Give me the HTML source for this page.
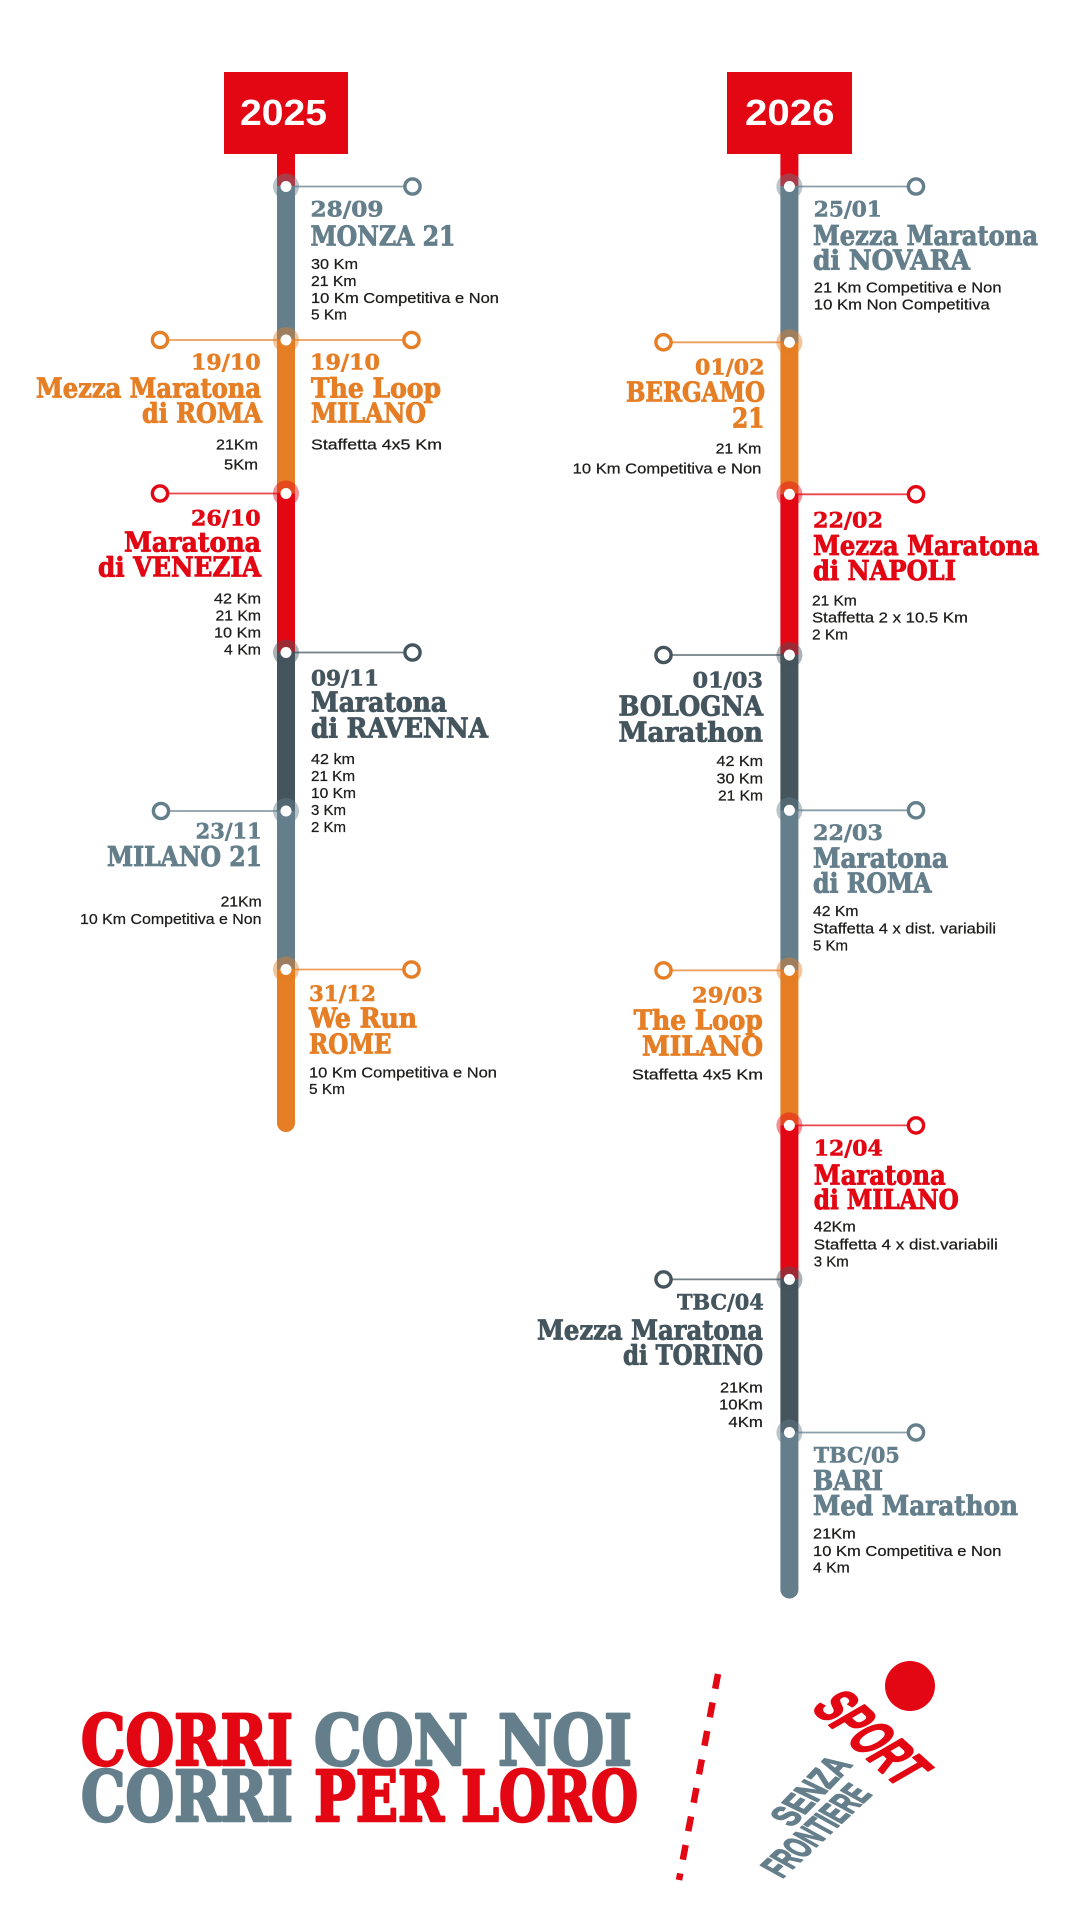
<!DOCTYPE html>
<html>
<head>
<meta charset="utf-8">
<style>
html,body{margin:0;padding:0;background:#fff;}
svg{display:block;}
.d{font-family:"DejaVu Serif Condensed","DejaVu Serif",serif;font-weight:bold;font-size:21.5px;stroke-width:0.5px;}
.t{font-family:"DejaVu Serif Condensed","DejaVu Serif",serif;font-weight:bold;font-size:27.5px;stroke-width:0.8px;}
.s{font-family:"Liberation Sans",sans-serif;font-size:15px;fill:#1d1d1b;stroke:#1d1d1b;stroke-width:0.25px;}
.y{font-family:"Liberation Sans",sans-serif;font-weight:bold;font-size:36px;fill:#fff;}
.big{font-family:"DejaVu Serif Condensed","DejaVu Serif",serif;font-weight:bold;font-size:70px;stroke-width:2.4px;stroke-linejoin:round;}
.lg{font-family:"Liberation Sans","DejaVu Sans",sans-serif;font-weight:bold;stroke-linejoin:round;}
.G{fill:#647f8b;stroke:#647f8b}.O{fill:#e57e24;stroke:#e57e24}.R{fill:#e30613;stroke:#e30613}.D{fill:#44555e;stroke:#44555e}
</style>
</head>
<body>
<svg width="1080" height="1920" viewBox="0 0 1080 1920" xmlns="http://www.w3.org/2000/svg">
<rect width="1080" height="1920" fill="#fff"/>

<!-- ===== YEAR BOXES ===== -->
<rect x="224" y="72" width="124" height="82" fill="#e30613"/>
<text class="y" x="240" y="125" textLength="87" lengthAdjust="spacingAndGlyphs">2025</text>
<rect x="727" y="72" width="125" height="82" fill="#e30613"/>
<text class="y" x="745" y="125" textLength="89.5" lengthAdjust="spacingAndGlyphs">2026</text>

<!-- ===== LEFT LINE (x center 286) ===== -->
<rect x="277" y="153" width="18" height="34" fill="#e30613"/>
<rect x="277" y="186" width="18" height="154" fill="#647f8b"/>
<rect x="277" y="340" width="18" height="154" fill="#e57e24"/>
<rect x="277" y="493.5" width="18" height="159" fill="#e30613"/>
<rect x="277" y="652.5" width="18" height="159" fill="#44555e"/>
<rect x="277" y="811" width="18" height="159" fill="#647f8b"/>
<rect x="277" y="969.5" width="18" height="154" fill="#e57e24"/>
<circle cx="286" cy="1123" r="9" fill="#e57e24"/>

<!-- ===== RIGHT LINE (x center 789.4) ===== -->
<rect x="780.4" y="153" width="18" height="34" fill="#e30613"/>
<rect x="780.4" y="186" width="18" height="157" fill="#647f8b"/>
<rect x="780.4" y="342.3" width="18" height="152" fill="#e57e24"/>
<rect x="780.4" y="494.3" width="18" height="161" fill="#e30613"/>
<rect x="780.4" y="655" width="18" height="156" fill="#44555e"/>
<rect x="780.4" y="810.3" width="18" height="160" fill="#647f8b"/>
<rect x="780.4" y="970.4" width="18" height="155" fill="#e57e24"/>
<rect x="780.4" y="1125.4" width="18" height="154" fill="#e30613"/>
<rect x="780.4" y="1279.4" width="18" height="153.5" fill="#44555e"/>
<rect x="780.4" y="1432.5" width="18" height="157" fill="#647f8b"/>
<circle cx="789.4" cy="1589.5" r="9" fill="#647f8b"/>

<!-- ===== CONNECTORS ===== -->
<g stroke-width="1.8" opacity="0.75">
<line x1="286" y1="186.5" x2="412.5" y2="186.5" stroke="#647f8b"/>
<line x1="160" y1="340" x2="411.5" y2="340" stroke="#e57e24"/>
<line x1="160" y1="493.5" x2="286" y2="493.5" stroke="#e30613"/>
<line x1="286" y1="652.5" x2="412.5" y2="652.5" stroke="#44555e"/>
<line x1="161" y1="811" x2="286" y2="811" stroke="#647f8b"/>
<line x1="286" y1="969.5" x2="411.5" y2="969.5" stroke="#e57e24"/>

<line x1="789.4" y1="186.5" x2="916" y2="186.5" stroke="#647f8b"/>
<line x1="663.5" y1="342.3" x2="789.4" y2="342.3" stroke="#e57e24"/>
<line x1="789.4" y1="494.3" x2="916" y2="494.3" stroke="#e30613"/>
<line x1="663.5" y1="655" x2="789.4" y2="655" stroke="#44555e"/>
<line x1="789.4" y1="810.3" x2="916" y2="810.3" stroke="#647f8b"/>
<line x1="663.5" y1="970.4" x2="789.4" y2="970.4" stroke="#e57e24"/>
<line x1="789.4" y1="1125.4" x2="916" y2="1125.4" stroke="#e30613"/>
<line x1="663.5" y1="1279.4" x2="789.4" y2="1279.4" stroke="#44555e"/>
<line x1="789.4" y1="1432.5" x2="916" y2="1432.5" stroke="#647f8b"/>
</g>

<!-- ===== HALOS + WHITE DOTS ===== -->
<g opacity="0.45">
<circle cx="286" cy="186.5" r="13" fill="#647f8b"/>
<circle cx="286" cy="340" r="13" fill="#e57e24"/>
<circle cx="286" cy="493.5" r="13" fill="#e30613"/>
<circle cx="286" cy="652.5" r="13" fill="#44555e"/>
<circle cx="286" cy="811" r="13" fill="#647f8b"/>
<circle cx="286" cy="969.5" r="13" fill="#e57e24"/>
<circle cx="789.4" cy="186.5" r="13" fill="#647f8b"/>
<circle cx="789.4" cy="342.3" r="13" fill="#e57e24"/>
<circle cx="789.4" cy="494.3" r="13" fill="#e30613"/>
<circle cx="789.4" cy="655" r="13" fill="#44555e"/>
<circle cx="789.4" cy="810.3" r="13" fill="#647f8b"/>
<circle cx="789.4" cy="970.4" r="13" fill="#e57e24"/>
<circle cx="789.4" cy="1125.4" r="13" fill="#e30613"/>
<circle cx="789.4" cy="1279.4" r="13" fill="#44555e"/>
<circle cx="789.4" cy="1432.5" r="13" fill="#647f8b"/>
</g>
<g fill="#fff">
<circle cx="286" cy="186.5" r="5.5"/>
<circle cx="286" cy="340" r="5.5"/>
<circle cx="286" cy="493.5" r="5.5"/>
<circle cx="286" cy="652.5" r="5.5"/>
<circle cx="286" cy="811" r="5.5"/>
<circle cx="286" cy="969.5" r="5.5"/>
<circle cx="789.4" cy="186.5" r="5.5"/>
<circle cx="789.4" cy="342.3" r="5.5"/>
<circle cx="789.4" cy="494.3" r="5.5"/>
<circle cx="789.4" cy="655" r="5.5"/>
<circle cx="789.4" cy="810.3" r="5.5"/>
<circle cx="789.4" cy="970.4" r="5.5"/>
<circle cx="789.4" cy="1125.4" r="5.5"/>
<circle cx="789.4" cy="1279.4" r="5.5"/>
<circle cx="789.4" cy="1432.5" r="5.5"/>
</g>

<!-- ===== END CIRCLES ===== -->
<g fill="#fff" stroke-width="3.4">
<circle cx="412.5" cy="186.5" r="7.6" stroke="#647f8b"/>
<circle cx="160" cy="340" r="7.6" stroke="#e57e24"/>
<circle cx="411.5" cy="340" r="7.6" stroke="#e57e24"/>
<circle cx="160" cy="493.5" r="7.6" stroke="#e30613"/>
<circle cx="412.5" cy="652.5" r="7.6" stroke="#44555e"/>
<circle cx="161" cy="811" r="7.6" stroke="#647f8b"/>
<circle cx="411.5" cy="969.5" r="7.6" stroke="#e57e24"/>
<circle cx="916" cy="186.5" r="7.6" stroke="#647f8b"/>
<circle cx="663.5" cy="342.3" r="7.6" stroke="#e57e24"/>
<circle cx="916" cy="494.3" r="7.6" stroke="#e30613"/>
<circle cx="663.5" cy="655" r="7.6" stroke="#44555e"/>
<circle cx="916" cy="810.3" r="7.6" stroke="#647f8b"/>
<circle cx="663.5" cy="970.4" r="7.6" stroke="#e57e24"/>
<circle cx="916" cy="1125.4" r="7.6" stroke="#e30613"/>
<circle cx="663.5" cy="1279.4" r="7.6" stroke="#44555e"/>
<circle cx="916" cy="1432.5" r="7.6" stroke="#647f8b"/>
</g>

<!-- ===== LEFT COLUMN TEXT ===== -->
<text class="d G" x="310.5" y="216.3" textLength="73" lengthAdjust="spacingAndGlyphs">28/09</text>
<text class="t G" x="310.5" y="245.4" textLength="145" lengthAdjust="spacingAndGlyphs">MONZA 21</text>
<text class="s" x="311" y="269.2" textLength="47" lengthAdjust="spacingAndGlyphs">30 Km</text>
<text class="s" x="311" y="286" textLength="45.5" lengthAdjust="spacingAndGlyphs">21 Km</text>
<text class="s" x="311" y="302.9" textLength="188" lengthAdjust="spacingAndGlyphs">10 Km Competitiva e Non</text>
<text class="s" x="311" y="319.6" textLength="36" lengthAdjust="spacingAndGlyphs">5 Km</text>

<text class="d O" x="191" y="369.3" textLength="69.6" lengthAdjust="spacingAndGlyphs">19/10</text>
<text class="t O" x="36" y="397.3" textLength="225" lengthAdjust="spacingAndGlyphs">Mezza Maratona</text>
<text class="t O" x="142" y="422.7" textLength="120" lengthAdjust="spacingAndGlyphs">di ROMA</text>
<text class="s" x="216" y="449.3" textLength="42" lengthAdjust="spacingAndGlyphs">21Km</text>
<text class="s" x="224" y="469.3" textLength="34" lengthAdjust="spacingAndGlyphs">5Km</text>

<text class="d O" x="310" y="369.3" textLength="70" lengthAdjust="spacingAndGlyphs">19/10</text>
<text class="t O" x="311" y="397.3" textLength="130" lengthAdjust="spacingAndGlyphs">The Loop</text>
<text class="t O" x="311" y="422.7" textLength="115" lengthAdjust="spacingAndGlyphs">MILANO</text>
<text class="s" x="311" y="449.3" textLength="131" lengthAdjust="spacingAndGlyphs">Staffetta 4x5 Km</text>

<text class="d R" x="191" y="525.7" textLength="69.6" lengthAdjust="spacingAndGlyphs">26/10</text>
<text class="t R" x="124" y="551.7" textLength="137" lengthAdjust="spacingAndGlyphs">Maratona</text>
<text class="t R" x="98" y="576.7" textLength="163" lengthAdjust="spacingAndGlyphs">di VENEZIA</text>
<text class="s" x="214" y="603.3" textLength="47" lengthAdjust="spacingAndGlyphs">42 Km</text>
<text class="s" x="215.5" y="620.3" textLength="45.5" lengthAdjust="spacingAndGlyphs">21 Km</text>
<text class="s" x="214" y="637.3" textLength="47" lengthAdjust="spacingAndGlyphs">10 Km</text>
<text class="s" x="224" y="654.3" textLength="37" lengthAdjust="spacingAndGlyphs">4 Km</text>

<text class="d D" x="311" y="685.7" textLength="68" lengthAdjust="spacingAndGlyphs">09/11</text>
<text class="t D" x="311" y="711.7" textLength="136" lengthAdjust="spacingAndGlyphs">Maratona</text>
<text class="t D" x="311" y="737.3" textLength="177" lengthAdjust="spacingAndGlyphs">di RAVENNA</text>
<text class="s" x="311" y="764" textLength="44" lengthAdjust="spacingAndGlyphs">42 km</text>
<text class="s" x="311" y="781" textLength="44" lengthAdjust="spacingAndGlyphs">21 Km</text>
<text class="s" x="311" y="798" textLength="45" lengthAdjust="spacingAndGlyphs">10 Km</text>
<text class="s" x="311" y="815" textLength="35" lengthAdjust="spacingAndGlyphs">3 Km</text>
<text class="s" x="311" y="832" textLength="35" lengthAdjust="spacingAndGlyphs">2 Km</text>

<text class="d G" x="195.7" y="838.3" textLength="66" lengthAdjust="spacingAndGlyphs">23/11</text>
<text class="t G" x="107" y="866" textLength="155" lengthAdjust="spacingAndGlyphs">MILANO 21</text>
<text class="s" x="220.7" y="906.7" textLength="41" lengthAdjust="spacingAndGlyphs">21Km</text>
<text class="s" x="80" y="924" textLength="181.5" lengthAdjust="spacingAndGlyphs">10 Km Competitiva e Non</text>

<text class="d O" x="309" y="1001" textLength="67" lengthAdjust="spacingAndGlyphs">31/12</text>
<text class="t O" x="309" y="1027.7" textLength="108" lengthAdjust="spacingAndGlyphs">We Run</text>
<text class="t O" x="309" y="1053.3" textLength="82.5" lengthAdjust="spacingAndGlyphs">ROME</text>
<text class="s" x="309" y="1077.3" textLength="188" lengthAdjust="spacingAndGlyphs">10 Km Competitiva e Non</text>
<text class="s" x="309" y="1094" textLength="36" lengthAdjust="spacingAndGlyphs">5 Km</text>

<!-- ===== RIGHT COLUMN TEXT ===== -->
<text class="d G" x="813.8" y="216.3" textLength="68" lengthAdjust="spacingAndGlyphs">25/01</text>
<text class="t G" x="813" y="245" textLength="225" lengthAdjust="spacingAndGlyphs">Mezza Maratona</text>
<text class="t G" x="813" y="269.3" textLength="157" lengthAdjust="spacingAndGlyphs">di NOVARA</text>
<text class="s" x="813.8" y="292.7" textLength="187.7" lengthAdjust="spacingAndGlyphs">21 Km Competitiva e Non</text>
<text class="s" x="813.8" y="309.3" textLength="176" lengthAdjust="spacingAndGlyphs">10 Km Non Competitiva</text>

<text class="d O" x="695" y="374.3" textLength="69.5" lengthAdjust="spacingAndGlyphs">01/02</text>
<text class="t O" x="626" y="401.7" textLength="139" lengthAdjust="spacingAndGlyphs">BERGAMO</text>
<text class="t O" x="732" y="427.3" textLength="32.5" lengthAdjust="spacingAndGlyphs">21</text>
<text class="s" x="715.6" y="453.3" textLength="45.8" lengthAdjust="spacingAndGlyphs">21 Km</text>
<text class="s" x="572.7" y="473.3" textLength="188.7" lengthAdjust="spacingAndGlyphs">10 Km Competitiva e Non</text>

<text class="d R" x="813" y="527.7" textLength="70" lengthAdjust="spacingAndGlyphs">22/02</text>
<text class="t R" x="813" y="555" textLength="226" lengthAdjust="spacingAndGlyphs">Mezza Maratona</text>
<text class="t R" x="813" y="580" textLength="143" lengthAdjust="spacingAndGlyphs">di NAPOLI</text>
<text class="s" x="812" y="605.7" textLength="44.8" lengthAdjust="spacingAndGlyphs">21 Km</text>
<text class="s" x="812" y="622.7" textLength="156" lengthAdjust="spacingAndGlyphs">Staffetta 2 x 10.5 Km</text>
<text class="s" x="812" y="639.7" textLength="36" lengthAdjust="spacingAndGlyphs">2 Km</text>

<text class="d D" x="692.5" y="687.7" textLength="70.5" lengthAdjust="spacingAndGlyphs">01/03</text>
<text class="t D" x="618.5" y="715.7" textLength="144.5" lengthAdjust="spacingAndGlyphs">BOLOGNA</text>
<text class="t D" x="618.5" y="741.7" textLength="144.5" lengthAdjust="spacingAndGlyphs">Marathon</text>
<text class="s" x="716.5" y="766" textLength="46.5" lengthAdjust="spacingAndGlyphs">42 Km</text>
<text class="s" x="716.5" y="783.3" textLength="46.5" lengthAdjust="spacingAndGlyphs">30 Km</text>
<text class="s" x="718" y="800.3" textLength="45" lengthAdjust="spacingAndGlyphs">21 Km</text>

<text class="d G" x="813" y="840" textLength="70" lengthAdjust="spacingAndGlyphs">22/03</text>
<text class="t G" x="813" y="867.3" textLength="135" lengthAdjust="spacingAndGlyphs">Maratona</text>
<text class="t G" x="813" y="892.7" textLength="118.5" lengthAdjust="spacingAndGlyphs">di ROMA</text>
<text class="s" x="813" y="916" textLength="45.5" lengthAdjust="spacingAndGlyphs">42 Km</text>
<text class="s" x="813" y="933.3" textLength="183" lengthAdjust="spacingAndGlyphs">Staffetta 4 x dist. variabili</text>
<text class="s" x="813" y="950.4" textLength="35" lengthAdjust="spacingAndGlyphs">5 Km</text>

<text class="d O" x="692" y="1002.6" textLength="71" lengthAdjust="spacingAndGlyphs">29/03</text>
<text class="t O" x="633.7" y="1029.4" textLength="129" lengthAdjust="spacingAndGlyphs">The Loop</text>
<text class="t O" x="642" y="1055.3" textLength="121" lengthAdjust="spacingAndGlyphs">MILANO</text>
<text class="s" x="632" y="1079.4" textLength="131" lengthAdjust="spacingAndGlyphs">Staffetta 4x5 Km</text>

<text class="d R" x="813.8" y="1155.7" textLength="69" lengthAdjust="spacingAndGlyphs">12/04</text>
<text class="t R" x="813.8" y="1184.3" textLength="132" lengthAdjust="spacingAndGlyphs">Maratona</text>
<text class="t R" x="813.8" y="1208.8" textLength="145" lengthAdjust="spacingAndGlyphs">di MILANO</text>
<text class="s" x="813.8" y="1231.6" textLength="42" lengthAdjust="spacingAndGlyphs">42Km</text>
<text class="s" x="813.8" y="1249.5" textLength="184" lengthAdjust="spacingAndGlyphs">Staffetta 4 x dist.variabili</text>
<text class="s" x="813.8" y="1266.4" textLength="35" lengthAdjust="spacingAndGlyphs">3 Km</text>

<text class="d D" x="677" y="1309.7" textLength="86.8" lengthAdjust="spacingAndGlyphs">TBC/04</text>
<text class="t D" x="537" y="1339.6" textLength="226" lengthAdjust="spacingAndGlyphs">Mezza Maratona</text>
<text class="t D" x="623" y="1364.6" textLength="140" lengthAdjust="spacingAndGlyphs">di TORINO</text>
<text class="s" x="720" y="1392.3" textLength="42.7" lengthAdjust="spacingAndGlyphs">21Km</text>
<text class="s" x="719" y="1409.7" textLength="43.7" lengthAdjust="spacingAndGlyphs">10Km</text>
<text class="s" x="728.4" y="1427" textLength="34.4" lengthAdjust="spacingAndGlyphs">4Km</text>

<text class="d G" x="813.8" y="1462.4" textLength="86" lengthAdjust="spacingAndGlyphs">TBC/05</text>
<text class="t G" x="813" y="1490" textLength="70" lengthAdjust="spacingAndGlyphs">BARI</text>
<text class="t G" x="813" y="1515" textLength="205" lengthAdjust="spacingAndGlyphs">Med Marathon</text>
<text class="s" x="813" y="1538.3" textLength="42.7" lengthAdjust="spacingAndGlyphs">21Km</text>
<text class="s" x="813" y="1556" textLength="188.4" lengthAdjust="spacingAndGlyphs">10 Km Competitiva e Non</text>
<text class="s" x="813" y="1572.7" textLength="36.8" lengthAdjust="spacingAndGlyphs">4 Km</text>

<!-- ===== BOTTOM TAGLINE ===== -->
<text class="big R" x="81" y="1765" textLength="212" lengthAdjust="spacingAndGlyphs">CORRI</text>
<text class="big G" x="314" y="1765" textLength="154" lengthAdjust="spacingAndGlyphs">CON</text>
<text class="big G" x="498" y="1765" textLength="134" lengthAdjust="spacingAndGlyphs">NOI</text>
<text class="big G" x="81" y="1821.2" textLength="212" lengthAdjust="spacingAndGlyphs">CORRI</text>
<text class="big R" x="314" y="1821.2" textLength="130" lengthAdjust="spacingAndGlyphs">PER</text>
<text class="big R" x="461" y="1821.2" textLength="177" lengthAdjust="spacingAndGlyphs">LORO</text>

<!-- dashed divider -->
<line x1="718" y1="1674" x2="679" y2="1880" stroke="#e30613" stroke-width="6.5" stroke-dasharray="15 14"/>

<!-- ===== LOGO ===== -->
<circle cx="910" cy="1686" r="25" fill="#e30613"/>
<text class="lg" fill="#e30613" stroke="#e30613" stroke-width="2" font-size="56" transform="translate(810,1708) rotate(42) skewX(-18)" textLength="120" lengthAdjust="spacingAndGlyphs">SPORT</text>
<text class="lg" fill="#647f8b" stroke="#647f8b" stroke-width="1.6" font-size="36" transform="translate(792,1828) rotate(-46) skewX(18)" textLength="88" lengthAdjust="spacingAndGlyphs">SENZA</text>
<text class="lg" fill="#647f8b" stroke="#647f8b" stroke-width="1.6" font-size="36" transform="translate(782,1879) rotate(-43) skewX(18)" textLength="124" lengthAdjust="spacingAndGlyphs">FRONTIERE</text>
</svg>
</body>
</html>
